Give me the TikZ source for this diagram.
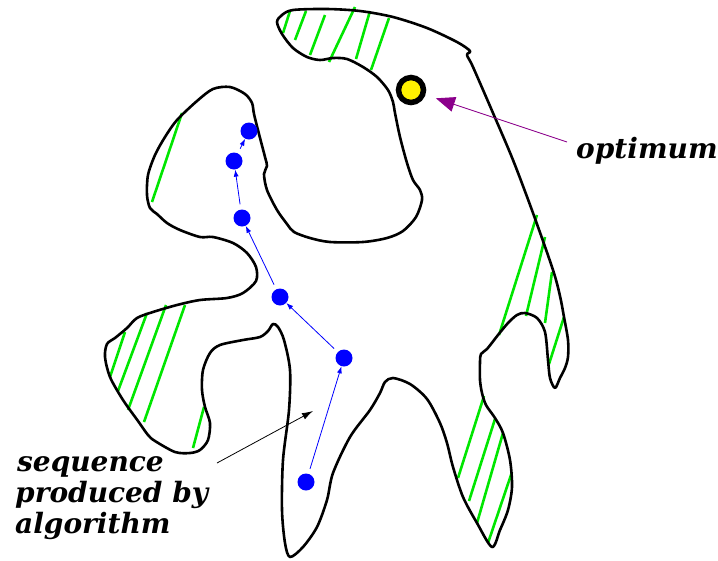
\documentclass[tikz,border=0pt]{standalone}
\usepackage{fontspec}
\newfontfamily\lblfont{DejaVu Serif}
\usetikzlibrary{arrows.meta}
\definecolor{hgreen}{RGB}{0,230,0}
\definecolor{dotblue}{RGB}{0,0,255}
\definecolor{optpurple}{RGB}{139,0,139}
\tikzset{
  outline/.style={line width=2.6pt, line join=round},
  hatch/.style={hgreen, line width=2.6pt},
  dot/.style={circle, fill=dotblue, inner sep=0pt, minimum size=17pt},
  seqarrow/.style={dotblue, line width=0.8pt, -{Latex[length=7pt,width=5pt]}, shorten <=5pt},
  optmark/.style={circle, fill=yellow, draw=black, line width=5.5pt, inner sep=0pt, minimum size=25pt},
  optarrow/.style={optpurple, line width=0.9pt, -{Triangle[length=19pt,width=15pt]}, shorten >=11pt},
  labelarrow/.style={black, line width=0.8pt, -{Latex[length=11pt,width=7pt]}},
  lbl/.style={font=\lblfont\fontsize{28}{28}\selectfont\bfseries\itshape, inner sep=0pt, anchor=base west}
}
\begin{document}
\begin{tikzpicture}[x=1pt,y=-1pt]
\useasboundingbox (0,0) rectangle (718,560);
% hatching
\draw[hatch] (290,11) -- (283,33);
\draw[hatch] (306,11) -- (295,40);
\draw[hatch] (325,15) -- (310,55);
\draw[hatch] (355,7) -- (329,62);
\draw[hatch] (370,11) -- (356,59);
\draw[hatch] (389,18) -- (371,70);
\draw[hatch] (182,113) -- (152,202);
\draw[hatch] (125,332) -- (110,377);
\draw[hatch] (147,313) -- (118,391);
\draw[hatch] (166,305) -- (128,410);
\draw[hatch] (185,305) -- (144,422);
\draw[hatch] (204,407) -- (193,448);
\draw[hatch] (537,215) -- (499,335);
\draw[hatch] (545,237) -- (526,316);
\draw[hatch] (552,272) -- (545,323);
\draw[hatch] (564,317) -- (549,364);
\draw[hatch] (484,396) -- (458,478);
\draw[hatch] (495,419) -- (469,501);
\draw[hatch] (503,433) -- (477,523);
\draw[hatch] (512,472) -- (488,543);
% outline
\draw[outline] plot[smooth cycle, tension=0.5] coordinates {
 (277,22) (282,15) (293,10) (327,9) (360,11) (393,17) (427,28) (457,42) (470,51) (467,55)
 (473,67) (493,113) (513,160) (533,213) (553,270) (560,296) (564,317) (568,340) (568,357)
 (565,368) (560,378) (555,388) (550,378) (548,360) (545,332) (537,318) (525,313) (517,315)
 (508,323) (498,335) (487,349) (481,354) (480,362) (480,380) (482,393) (486,405) (495,418)
 (503,433) (510,460) (512,487) (508,510) (500,530) (492,547)
 (477,523) (463,497) (453,467) (447,443) (440,423) (427,399) (410,384) (393,378) (385,382)
 (380,393) (370,410) (350,437) (333,473) (327,500) (317,527) (303,547) (290,557)
 (285,543) (282,510) (283,460) (289,410) (290,370) (284,340) (278,327) (273,324) (268,331)
 (260,337) (243,340) (220,345) (210,353) (203,370) (202,390) (205,407) (210,423) (208,440)
 (200,450) (190,453) (175,452) (155,441) (148,435) (138,421) (123,400) (110,377) (105,357)
 (107,344) (115,338) (127,328) (137,318) (153,312) (177,305) (200,300) (227,298) (243,293)
 (256,281) (256,267) (247,253) (233,243) (213,237) (200,237) (180,230) (167,223) (157,214)
 (150,208) (147,195) (148,175) (155,155) (165,137) (177,120) (197,101) (213,89) (230,87)
 (245,94) (252,103) (254,114) (259,134) (265,157) (267,166) (264,174) (267,190) (277,210)
 (287,224) (294,232) (310,238) (330,242) (363,242) (387,238) (403,231) (416,217) (422,200)
 (420,190) (413,180) (407,163) (400,137) (395,113) (393,102) (388,90) (377,77) (363,67)
 (347,59) (333,58) (320,60) (307,57) (293,48) (282,34)
};
% sequence of points
\node[dot] (d1) at (306,482) {};
\node[dot] (d2) at (344,358) {};
\node[dot] (d3) at (280,297) {};
\node[dot] (d4) at (242,218) {};
\node[dot] (d5) at (234,161) {};
\node[dot] (d6) at (249,131) {};
\draw[seqarrow] (d1) -- (d2);
\draw[seqarrow] (d2) -- (d3);
\draw[seqarrow] (d3) -- (d4);
\draw[seqarrow] (d4) -- (d5);
\draw[seqarrow] (d5) -- (d6);
% optimum
\node[optmark] (opt) at (411,90) {};
\node[lbl] (optlbl) at (576,158) {optimum};
\coordinate (optstart) at (567,142);
\draw[optarrow] (optstart) -- (opt);
% sequence label
\node[lbl] (seq1) at (17,471) {sequence};
\node[lbl] (seq2) at (15,502) {produced by};
\node[lbl] (seq3) at (15,533) {algorithm};
\coordinate (seqstart) at (217,463);
\coordinate (seqend) at (313,411);
\draw[labelarrow] (seqstart) -- (seqend);
\end{tikzpicture}
\end{document}
